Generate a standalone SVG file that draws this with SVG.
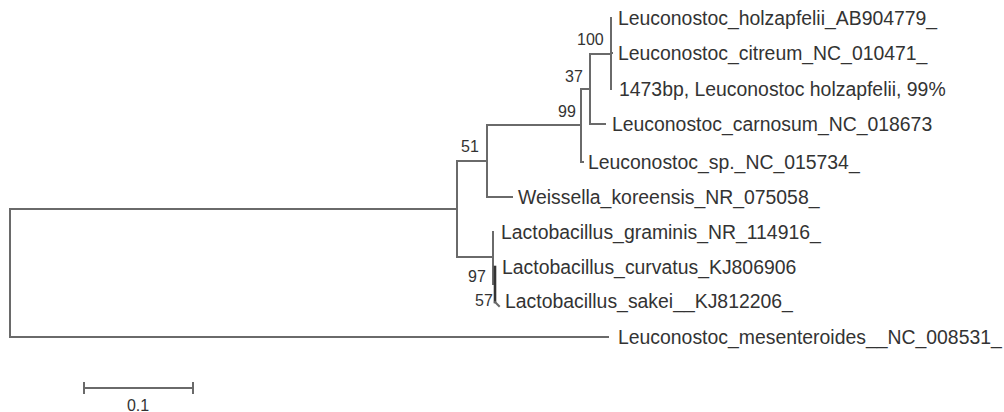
<svg xmlns="http://www.w3.org/2000/svg" width="1004" height="412" viewBox="0 0 1004 412">
<style>
.br{fill:none;stroke:#6a6a6a;stroke-width:2;stroke-linecap:square}
.lab{font-family:"Liberation Sans",Arial,sans-serif;font-size:19.4px;fill:#333}
.bs{font-family:"Liberation Sans",Arial,sans-serif;font-size:16px;fill:#333}
</style>
<rect width="1004" height="412" fill="#fff"/>
<g id="connectors">
<path class="br" d="M10,209 V337 M10,209 H457 M10,337 H608"/>
<path class="br" d="M457,161 V257 M457,161 H487 M457,257 H493"/>
<path class="br" d="M487,125 V197 M487,125 H581 M487,197 H512"/>
<path class="br" d="M581,89 V162 M581,89 H590 M581,162 H583"/>
<path class="br" d="M590,54 V124 M590,54 H611 M590,124 H605"/>
<path class="br" d="M611,18 V89 M611,53 H612"/>
<path class="br" d="M493,232 V284 M493,284 H495"/>
<path class="br" d="M495,267 V302" style="stroke:#333;stroke-width:2.6"/>
<path class="br" d="M495,302 L499,306"/>
</g>
<g id="bootstrap">
<text class="bs" x="577" y="45">100</text>
<text class="bs" x="565" y="82">37</text>
<text class="bs" x="558" y="117">99</text>
<text class="bs" x="461" y="152">51</text>
<text class="bs" x="468" y="282">97</text>
<text class="bs" x="475" y="306">57</text>
</g>
<g id="tip-holzapfelii"><text class="lab" x="618" y="25">Leuconostoc_holzapfelii_AB904779_</text></g>
<g id="tip-citreum"><text class="lab" x="618" y="60">Leuconostoc_citreum_NC_010471_</text></g>
<g id="tip-query"><text class="lab" x="619" y="96">1473bp, Leuconostoc holzapfelii, 99%</text></g>
<g id="tip-carnosum"><text class="lab" x="612" y="131">Leuconostoc_carnosum_NC_018673</text></g>
<g id="tip-sp"><text class="lab" x="588" y="169">Leuconostoc_sp._NC_015734_</text></g>
<g id="tip-weissella"><text class="lab" x="518" y="204">Weissella_koreensis_NR_075058_</text></g>
<g id="tip-graminis"><text class="lab" x="501" y="239">Lactobacillus_graminis_NR_114916_</text></g>
<g id="tip-curvatus"><text class="lab" x="502" y="274">Lactobacillus_curvatus_KJ806906</text></g>
<g id="tip-sakei"><text class="lab" x="505" y="308">Lactobacillus_sakei__KJ812206_</text></g>
<g id="tip-mesenteroides"><text class="lab" x="618" y="344">Leuconostoc_mesenteroides__NC_008531_</text></g>
<g id="scalebar">
<path class="br" d="M84,388 H193 M84,383 V393 M193,383 V393"/>
<text class="bs" x="138" y="411" text-anchor="middle">0.1</text>
</g>
</svg>
